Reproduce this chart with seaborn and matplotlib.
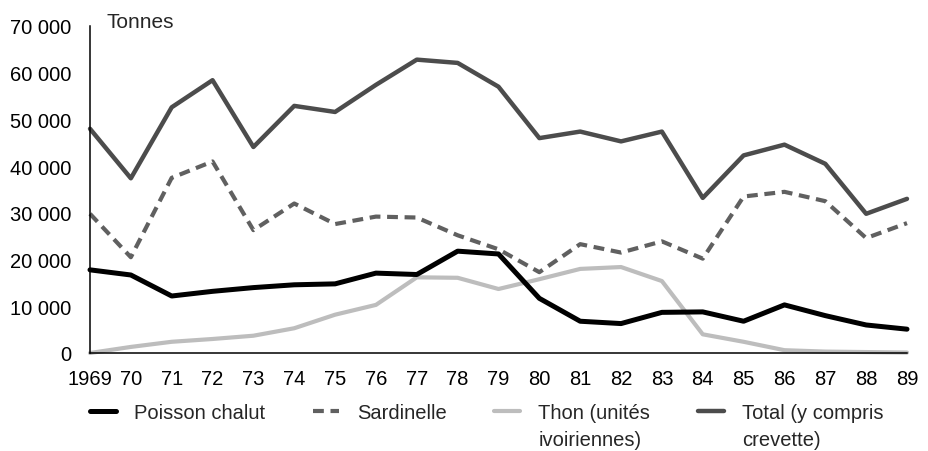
import numpy as np
import pandas as pd
import matplotlib
matplotlib.use("Agg")
import matplotlib.pyplot as plt
import seaborn as sns
from matplotlib.ticker import FuncFormatter

# captures (tonnes)
years = list(range(1969, 1990))
poisson_chalut = [17800, 16700, 12200, 13200, 14000, 14600, 14800, 17100, 16800, 21800, 21200,
                  11700, 6800, 6300, 8700, 8800, 6800, 10300, 8000, 6000, 5100]
sardinelle = [29800, 20500, 37500, 41000, 26300, 32000, 27600, 29200, 29000, 25200, 22200,
              17300, 23300, 21500, 23900, 20200, 33500, 34500, 32500, 24600, 27800]
thon = [0, 1300, 2400, 3000, 3700, 5300, 8200, 10300, 16200, 16100, 13700,
        15800, 18000, 18400, 15400, 4000, 2400, 600, 300, 200, 100]
total = [48000, 37400, 52600, 58400, 44100, 52900, 51600, 57400, 62800, 62100, 57000,
         46000, 47400, 45300, 47400, 33200, 42300, 44600, 40500, 29800, 33000]

# every label on two lines so the rows line up on the first one
labels = ["Poisson chalut\n ", "Sardinelle\n ", "Thon (unités\nivoiriennes)", "Total (y compris\ncrevette)"]

df = pd.DataFrame({"annee": years, "chalut": poisson_chalut, "sardinelle": sardinelle,
                   "thon": thon, "total": total})

sns.set_style("white")
plt.rcParams["font.family"] = ["Liberation Sans", "DejaVu Sans"]

fig = plt.figure(figsize=(9.29, 4.52), dpi=100)
ax = fig.add_axes([90 / 929, 1 - 354 / 452, 817 / 929, 327 / 452])

sns.lineplot(data=df, x="annee", y="thon", ax=ax, color="#bdbdbd", lw=3, clip_on=False)
sns.lineplot(data=df, x="annee", y="sardinelle", ax=ax, color="#606060", lw=3,
             linestyle=(0, (2.6, 1.6)), clip_on=False)
sns.lineplot(data=df, x="annee", y="total", ax=ax, color="#4c4c4c", lw=3.2, clip_on=False)
sns.lineplot(data=df, x="annee", y="chalut", ax=ax, color="black", lw=3.6, clip_on=False)

ax.set_xlim(1969, 1989)
ax.set_ylim(0, 70000)
ax.set_xticks(years)
ax.set_xticklabels(["1969"] + [str(y)[2:] for y in years[1:]])
ax.set_yticks(range(0, 70001, 10000))
ax.yaxis.set_major_formatter(FuncFormatter(lambda v, p: f"{v:,.0f}".replace(",", " ")))
ax.set_xlabel("")
ax.set_ylabel("")

sns.despine(ax=ax)
for s in ["left", "bottom"]:
    ax.spines[s].set_linewidth(1.1)
    ax.spines[s].set_color("black")
ax.tick_params(axis="both", direction="inout", length=9, width=1.1, colors="black",
               labelsize=14.5)
ax.tick_params(axis="x", pad=7)
ax.tick_params(axis="y", pad=9)

fig.text(107 / 929, 1 - 22 / 452, "Tonnes", fontsize=15, va="center", ha="left")

lines = ax.get_lines()
handles = [lines[3], lines[1], lines[0], lines[2]]
leg = fig.legend(handles, labels, loc="upper left", bbox_to_anchor=(90 / 929, 1 - 404 / 452),
                 ncol=4, frameon=False, fontsize=14.5, handlelength=1.3, handletextpad=0.9,
                 columnspacing=2.35, borderpad=0, borderaxespad=0)
for t in leg.get_texts():
    t.set_linespacing(1.55)
# move the handles up to the first text line
for ln in leg.get_lines():
    ln.set_ydata(np.asarray(ln.get_ydata()) + 11.2)

fig.savefig("out.png", dpi=100)
